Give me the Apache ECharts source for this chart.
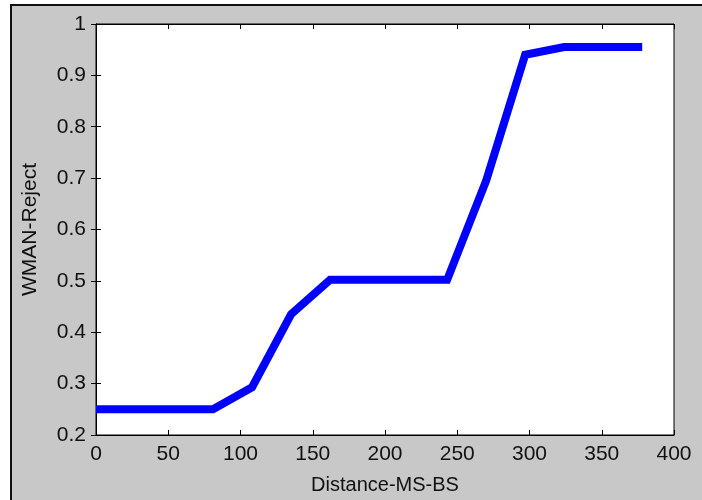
<!DOCTYPE html>
<html>
<head>
<meta charset="utf-8">
<script src="https://cdn.jsdelivr.net/npm/echarts@6/dist/echarts.min.js"></script>
<style>
  html, body { margin: 0; padding: 0; background: #ffffff; }
  #frame {
    position: absolute; left: 10px; top: 4px; width: 692px; height: 496px;
    background: #c8c8c8; border-top: 2px solid #111; border-left: 2px solid #111;
    box-sizing: border-box;
  }
  #chart { position: absolute; left: 0; top: 0; width: 702px; height: 500px; }
</style>
</head>
<body>
<div id="frame"></div>
<div id="chart"></div>
<script>
// Rejection probability against MS–BS distance
const distance = [0, 27, 54, 81, 108, 135, 162, 189, 216, 243, 270, 297, 324, 351, 378];
const reject   = [0.25, 0.25, 0.25, 0.25, 0.293, 0.435, 0.502, 0.502, 0.502, 0.502, 0.695, 0.94, 0.955, 0.955, 0.955];

const xTicks = { min: 0, max: 400, interval: 50 };
const yTicks = { min: 0.2, max: 1, interval: 0.1 };

const font = 'Liberation Sans, Arial, sans-serif';
const points = distance.map((d, i) => [d, reject[i]]);

const chart = echarts.init(document.getElementById('chart'), null, { renderer: 'canvas' });

const tickStyle = { show: true, inside: true, length: 5, lineStyle: { color: '#000', width: 1 } };
const lineStyle = { show: true, lineStyle: { color: '#000', width: 1 } };

chart.setOption({
  backgroundColor: 'transparent',
  animation: false,
  grid: {
    left: 96, right: 28, top: 24, bottom: 64,
    show: true, backgroundColor: '#ffffff', borderColor: '#000', borderWidth: 1
  },
  xAxis: [
    {
      type: 'value', position: 'bottom', ...xTicks,
      axisLine: lineStyle, axisTick: tickStyle, splitLine: { show: false },
      axisLabel: { color: '#111', fontFamily: font, fontSize: 21, margin: 9 },
      name: 'Distance-MS-BS', nameLocation: 'middle', nameGap: 40,
      nameTextStyle: { color: '#111', fontFamily: font, fontSize: 20 }
    },
    {
      type: 'value', position: 'top', ...xTicks,
      axisLine: lineStyle, axisTick: tickStyle, splitLine: { show: false },
      axisLabel: { show: false }
    }
  ],
  yAxis: [
    {
      type: 'value', position: 'left', ...yTicks,
      axisLine: lineStyle, axisTick: tickStyle, splitLine: { show: false },
      axisLabel: { color: '#111', fontFamily: font, fontSize: 21, margin: 10 },
      name: 'WMAN-Reject', nameLocation: 'middle', nameGap: 55,
      nameTextStyle: { color: '#111', fontFamily: font, fontSize: 21 }
    },
    {
      type: 'value', position: 'right', ...yTicks,
      axisLine: lineStyle, axisTick: tickStyle, splitLine: { show: false },
      axisLabel: { show: false }
    }
  ],
  series: [{
    type: 'line',
    data: points,
    showSymbol: false,
    symbol: 'none',
    lineStyle: { color: '#0000ff', width: 8, cap: 'butt', join: 'miter' }
  }]
});
</script>
</body>
</html>
